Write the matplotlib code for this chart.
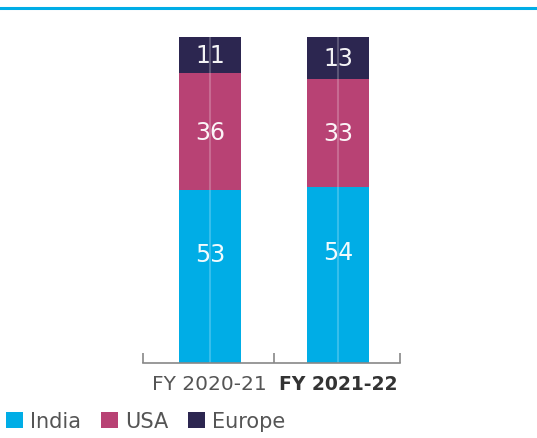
import matplotlib.pyplot as plt
from matplotlib.patches import Patch
from matplotlib.lines import Line2D
import numpy as np

# data
years = ["FY 2020-21", "FY 2021-22"]
india = [53, 54]
usa = [36, 33]
europe = [11, 13]
regions = ["India", "USA", "Europe"]
colors = ["#00ADE6", "#B84274", "#2C2650"]

W, H = 537, 439
fig = plt.figure(figsize=(W / 100, H / 100), dpi=100)
ax = fig.add_axes([143 / W, (H - 364) / H, (400 - 143) / W, (364 - 38) / H])

x = np.arange(len(years))
bw = 0.48
bottom = np.zeros(len(years))
for k, (vals, col) in enumerate(zip([india, usa, europe], colors)):
    vals = np.array(vals)
    ax.bar(x, vals, bw, bottom=bottom, color=col, linewidth=0)
    # the bottom segment's label sits a bit above its middle
    frac = 0.63 if k == 0 else 0.5
    for xi, b, v in zip(x, bottom, vals):
        ax.text(xi, b + v * frac, str(v), ha="center", va="center",
                color="white", fontsize=17, alpha=0.95)
    bottom = bottom + vals

# faint highlight down the middle of each bar
ax.vlines(x, 0, bottom, color="white", alpha=0.22, lw=1.5)

lo, hi = -0.52, 1.48
ax.set_xlim(lo, hi)
ax.set_ylim(0, 100)
for s in ["top", "right", "left"]:
    ax.spines[s].set_visible(False)
ax.spines["bottom"].set_color("#888888")
ax.spines["bottom"].set_linewidth(1.2)
ax.set_yticks([])
ax.set_xticks([lo, 0.5, hi])
ax.set_xticklabels([])
ax.tick_params(axis="x", which="major", direction="in", length=7,
               color="#888888", width=1.2)
ax.set_xticks(x, minor=True)
ax.set_xticklabels(years, minor=True)
ax.tick_params(axis="x", which="minor", length=0, pad=8,
               labelsize=14.5, labelcolor="#555555")
lab2 = ax.get_xticklabels(minor=True)[1]
lab2.set_fontweight("bold")
lab2.set_fontsize(13.5)
lab2.set_color("#333333")

# cyan rule across the top
fig.add_artist(Line2D([0, 1], [1 - 9 / H, 1 - 9 / H], color="#00ADE6", lw=2.2,
                      transform=fig.transFigure))

handles = [Patch(facecolor=c, edgecolor="none") for c in colors]
fig.legend(handles, regions, loc="center left", bbox_to_anchor=(0.0, (H - 422) / H),
           ncol=3, frameon=False, fontsize=15, handlelength=0.8, handleheight=0.8,
           handletextpad=0.35, columnspacing=0.95, borderaxespad=0, borderpad=0.3,
           labelcolor="#555555")

fig.savefig("out.png", dpi=100)
